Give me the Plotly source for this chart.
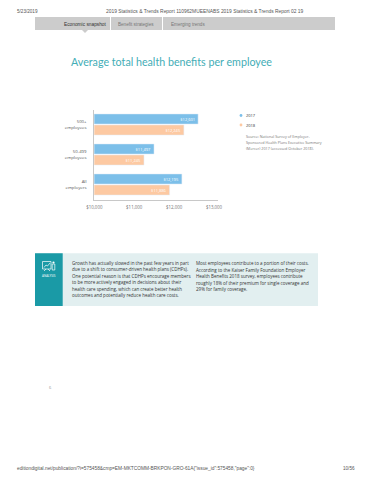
import plotly.graph_objects as go

PAGE_W, PAGE_H = 370, 480
OFFSET = 8  # the page's body margin
W, H = PAGE_W - 2 * OFFSET, PAGE_H - 2 * OFFSET
categories = ["All<br>employers", "50-499<br>employees", "500+<br>employees"]
series_2017 = [12195, 11497, 12601]
series_2018 = [11886, 11245, 12245]
labels_2017 = ["$12,195", "$11,497", "$12,601"]
labels_2018 = ["$11,886", "$11,245", "$12,245"]
tick_values = [10000, 11000, 12000, 13000]
tick_labels = ["$10,000", "$11,000", "$12,000", "$13,000"]
title = "Average total health benefits per employee"
header_left = "5/23/2019"
header_mid = "2019 Statistics & Trends Report 110962MUEENABS 2019 Statistics & Trends Report 02 19"
footer_left = "editiondigital.net/publication/?i=575458&cmp=EM-MKTCOMM-BRKPON-GRO-61A{\"issue_id\":575458,\"page\":0}"
footer_right = "10/56"
source_lines = ["Source: National Survey of Employer-", "Sponsored Health Plans Executive Summary",
                "(Mercer) 2017 (accessed October 2018)."]
left_lines = ["Growth has actually slowed in the past few years in part",
              "due to a shift to consumer-driven health plans (CDHPs).",
              "One potential reason is that CDHPs encourage members",
              "to be more actively engaged in decisions about their",
              "health care spending, which can create better health",
              "outcomes and potentially reduce health care costs."]
right_lines = ["Most employees contribute to a portion of their costs.",
               "According to the Kaiser Family Foundation Employer",
               "Health Benefits 2018 survey, employees contribute",
               "roughly 18% of their premium for single coverage and",
               "29% for family coverage."]

BLUE, ORANGE, TEAL, PALE = "#7cbfe9", "#fdc9a2", "#1a9aa6", "#e2eff0"
BODY = "Open Sans"
SANS = "Liberation Sans"

def px(x): return (x - OFFSET) / W
def py(y): return 1 - (y - OFFSET) / H

fig = go.Figure()
for name, vals, labs, col in [("2018", series_2018, labels_2018, ORANGE),
                              ("2017", series_2017, labels_2017, BLUE)]:
    fig.add_trace(go.Bar(y=categories, x=vals, name=name, orientation="h", marker_color=col,
                         text=labs, textposition="inside", insidetextanchor="end",
                         textangle=0, constraintext="none",
                         textfont=dict(size=4, color="#ffffff", family=BODY)))

ann = []
def t(x, y, s, size=5, color="#444444", anchor="left", family=BODY):
    ann.append(dict(x=px(x), y=py(y), xref="paper", yref="paper", text=s, showarrow=False,
                    xanchor=anchor, yanchor="middle", align=anchor,
                    font=dict(size=size, color=color, family=family), borderpad=0))

t(16, 11, header_left, 4.6, "#555555", family=SANS)
t(205, 11, header_mid, 4.9, "#555555", "center", SANS)
t(85, 24.5, "Economic snapshot", 4.8, "#333333", "center", SANS)
t(136, 24.5, "Benefit strategies", 4.6, "#777777", "center", SANS)
t(188, 24.5, "Emerging trends", 4.6, "#777777", "center", SANS)
t(70, 61, title, 10.7, "#43adb6", family="Lato")
t(245, 115.5, "2017", 4, "#333333")
t(245, 125, "2018", 4, "#333333")
for i, s in enumerate(source_lines):
    t(244.5, 137 + i * 5.7, s, 3.7, "#777777")
for i, s in enumerate(left_lines):
    t(71, 262.7 + i * 6.55, s, 4.5, "#333333")
for i, s in enumerate(right_lines):
    t(195, 263 + i * 6.55, s, 4.5, "#333333")
t(48.5, 275.5, "ANALYSIS", 3, "#ffffff", "center")
t(50.5, 387, "6", 4, "#999999", "center")
t(16, 468, footer_left, 4.8, "#555555", family=SANS)
t(342, 468, footer_right, 4.6, "#555555", family=SANS)

def rect(x0, y0, x1, y1, fill):
    return dict(type="rect", xref="paper", yref="paper", x0=px(x0), x1=px(x1), y0=py(y0), y1=py(y1),
                fillcolor=fill, line_width=0, layer="below")
def line(x0, y0, x1, y1, col, w=0.7):
    return dict(type="line", xref="paper", yref="paper", x0=px(x0), x1=px(x1), y0=py(y0), y1=py(y1),
                line=dict(color=col, width=w))
def dot(cx, cy, r, col):
    return dict(type="circle", xref="paper", yref="paper", x0=px(cx - r), x1=px(cx + r), y0=py(cy - r), y1=py(cy + r),
                fillcolor=col, line_width=0)

shapes = [rect(35, 17, 335, 30, "#cccccc"),
          rect(110, 17, 111, 30, "#ffffff"), rect(162, 17, 163, 30, "#ffffff"),
          dict(type="path", xref="paper", yref="paper", fillcolor="#cccccc", line_width=0,
               path=f"M {px(82)} {py(30)} L {px(88)} {py(30)} L {px(85)} {py(33)} Z"),
          rect(35, 253.3, 318, 306, PALE), rect(35, 253.3, 62.7, 306, TEAL),
          dot(241, 115.5, 1.4, BLUE), dot(241, 125, 1.4, ORANGE),
          dict(type="rect", xref="paper", yref="paper", x0=px(42.5), x1=px(51), y0=py(261.5), y1=py(269),
               line=dict(color="#ffffff", width=0.7)),
          line(44, 267.5, 46, 265, "#ffffff"), line(46, 265, 47.5, 266, "#ffffff"), line(47.5, 266, 50, 263, "#ffffff"),
          dot(53.5, 262.5, 1.1, "#ffffff"),
          dict(type="rect", xref="paper", yref="paper", x0=px(52.2), x1=px(54.8), y0=py(264), y1=py(270),
               line=dict(color="#ffffff", width=0.7)),
          line(46, 269, 44, 271, "#ffffff"), line(48, 269, 50, 271, "#ffffff")]

fig.update_layout(
    width=W, height=H, margin=dict(l=0, r=0, t=0, b=0, autoexpand=False), autosize=False,
    paper_bgcolor="#ffffff", plot_bgcolor="#ffffff", showlegend=False,
    barmode="group", bargap=0.267, bargroupgap=0.08,
    annotations=ann, shapes=shapes,
    xaxis=dict(domain=[px(94.3), px(217.6)], range=[10000, 13090], tickvals=tick_values, ticktext=tick_labels,
               showgrid=False, zeroline=False, showline=True, linecolor="#c8c8c8", linewidth=0.8,
               ticks="", ticklabelstandoff=3, tickfont=dict(size=4.4, color="#777777", family=BODY), anchor="y"),
    yaxis=dict(domain=[py(199.5), py(109.5)], range=[-0.5, 2.5], categoryorder="array", categoryarray=categories,
               showgrid=False, zeroline=False, showline=True, linecolor="#c8c8c8", linewidth=0.8,
               ticks="", ticklabelstandoff=6, tickfont=dict(size=4.3, color="#555555", family=BODY),
               anchor="x"),
)
fig.write_html("out.html", config=dict(displayModeBar=False))
